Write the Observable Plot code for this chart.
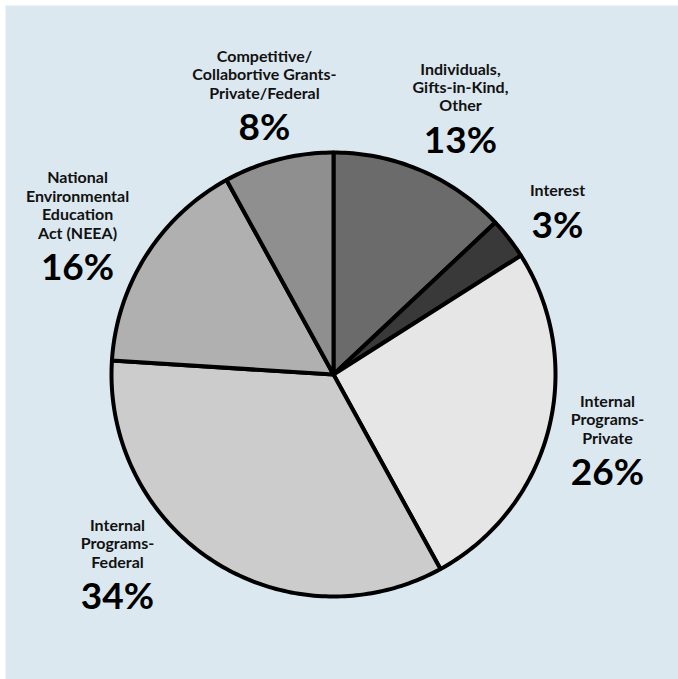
<!DOCTYPE html>
<html><head><meta charset="utf-8">
<script src="https://cdn.jsdelivr.net/npm/d3@7"></script>
<script src="https://cdn.jsdelivr.net/npm/@observablehq/plot@0.6"></script>
<style>html,body{margin:0;padding:0;background:#fff;}</style>
</head><body><div id="chart"></div>
<script>
// Data
const categories = [
  "Individuals,\nGifts-in-Kind,\nOther",
  "Interest",
  "Internal\nPrograms-\nPrivate",
  "Internal\nPrograms-\nFederal",
  "National\nEnvironmental\nEducation\nAct (NEEA)",
  "Competitive/\nCollabortive Grants-\nPrivate/Federal"
];
const shares = [13, 3, 26, 34, 16, 8];
const percentLabels = ["13%", "3%", "26%", "34%", "16%", "8%"];

// Styles / layout
const sliceFill = ["#6b6b6b", "#393939", "#e6e6e6", "#cccccc", "#b0b0b0", "#8f8f8f"];
// label anchors in units of pie radius, relative to pie centre
const labelX = [0.572, 1.009, 1.234, -0.973, -1.153, -0.311];
const labelY = [1.050, 0.667, -0.446, -1.005, 0.477, 1.108];

const W = 678, H = 679, cx = 333, cy = 374, R = 222, m = 5;

const arcs = d3.pie().sort(null).value(d => d)(shares);
const slicePts = [];
arcs.forEach((a, i) => {
  const n = Math.max(2, Math.ceil((a.endAngle - a.startAngle) / (Math.PI / 180)));
  slicePts.push({i, x: 0, y: 0, fill: sliceFill[i]});
  for (let k = 0; k <= n; k++) {
    const t = a.startAngle + (a.endAngle - a.startAngle) * k / n;
    slicePts.push({i, x: Math.sin(t), y: Math.cos(t), fill: sliceFill[i]});
  }
  slicePts.push({i, x: 0, y: 0, fill: sliceFill[i]});
});

const labels = categories.map((c, i) => ({name: c, pct: percentLabels[i], x: labelX[i], y: labelY[i]}));

const chart = Plot.plot({
  width: W, height: H,
  marginTop: m, marginLeft: m, marginRight: 0, marginBottom: 0,
  x: {domain: [(m - cx) / R, (W - cx) / R], axis: null},
  y: {domain: [(cy - H) / R, (cy - m) / R], axis: null},
  style: {background: "#fff", fontFamily: "Lato, sans-serif"},
  marks: [
    Plot.frame({fill: "#dce8ef", stroke: null}),
    Plot.line(slicePts, {x: "x", y: "y", z: "i", fill: "fill", stroke: "#000", strokeWidth: 4, strokeLinejoin: "round", curve: "linear"}),
    Plot.text(labels, {x: "x", y: "y", text: "name", lineAnchor: "bottom", dy: -30, fontSize: 16, fontWeight: "bold", lineHeight: 1.15, fill: "#111"}),
    Plot.text(labels, {x: "x", y: "y", text: "pct", lineAnchor: "middle", fontSize: 37, fontWeight: "bold", fill: "#000"})
  ]
});
document.getElementById("chart").appendChild(chart);
</script>
</body></html>
